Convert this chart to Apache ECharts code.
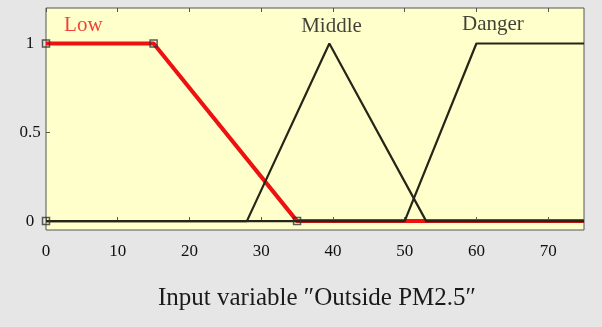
<!DOCTYPE html>
<html>
<head>
<meta charset="utf-8">
<script src="https://cdn.jsdelivr.net/npm/echarts@6/dist/echarts.min.js"></script>
<style>
  html, body { margin: 0; padding: 0; background: #e6e6e6; }
  #chart { width: 602px; height: 327px; }
</style>
</head>
<body>
<div id="chart"></div>
<script>
// membership functions
const lowX = [0, 15, 35, 75];
const lowY = [1, 1, 0, 0];
const middleX = [0, 28, 39.5, 53, 75];
const middleY = [0, 0, 1, 0, 0];
const dangerX = [0, 50, 60, 75];
const dangerY = [0, 0, 1, 1];
const markerX = [0, 15, 35, 0];
const markerY = [1, 1, 0, 0];

const mfNames = ["Low", "Middle", "Danger"];
const mfLabelX = [5.2, 39.8, 62.3];
const mfLabelY = [1.1, 1.098, 1.106];

const xTicks = [0, 10, 20, 30, 40, 50, 60, 70];
const yTicks = [0, 0.5, 1];

const FONT = "'Liberation Serif', 'Times New Roman', serif";
const LOW_COLOR = "#ee1111";
const LINE_COLOR = "#262618";

const zip = (xs, ys) => xs.map((x, i) => [x, ys[i]]);

const chart = echarts.init(document.getElementById("chart"), null, { renderer: "canvas" });

chart.setOption({
  backgroundColor: "#e6e6e6",
  animation: false,
  title: {
    text: "Input variable \u2033Outside PM2.5\u2033",
    left: 312,
    textAlign: "center",
    top: 281,
    textStyle: { fontFamily: FONT, fontSize: 25, fontWeight: "normal", color: "#1a1a1a" },
  },
  grid: {
    left: 46,
    right: 18,
    top: 8,
    bottom: 97,
    show: true,
    backgroundColor: "#ffffcc",
    borderColor: "#555",
    borderWidth: 1,
  },
  xAxis: [
    {
      type: "value",
      min: 0,
      max: 75,
      axisLine: { show: false },
      axisTick: { inside: true, length: 4, customValues: xTicks, lineStyle: { color: "#555" } },
      axisLabel: {
        customValues: xTicks,
        fontFamily: FONT,
        fontSize: 17,
        color: "#111",
        margin: 13,
      },
      splitLine: { show: false },
    },
    {
      type: "value",
      position: "top",
      min: 0,
      max: 75,
      axisLine: { show: false },
      axisTick: { inside: true, length: 4, customValues: xTicks, lineStyle: { color: "#555" } },
      axisLabel: { show: false },
      splitLine: { show: false },
    },
  ],
  yAxis: {
    type: "value",
    min: -0.05,
    max: 1.2,
    axisLine: { show: false },
    axisTick: { inside: true, length: 4, customValues: yTicks, lineStyle: { color: "#555" } },
    axisLabel: {
      customValues: yTicks,
      fontFamily: FONT,
      fontSize: 17,
      color: "#111",
      align: "center",
      margin: 16,
    },
    splitLine: { show: false },
  },
  series: [
    {
      type: "line",
      data: zip(lowX, lowY),
      showSymbol: false,
      lineStyle: { color: LOW_COLOR, width: 4 },
      z: 2,
    },
    {
      type: "line",
      data: zip(middleX, middleY),
      showSymbol: false,
      lineStyle: { color: LINE_COLOR, width: 2.2 },
      z: 3,
    },
    {
      type: "line",
      data: zip(dangerX, dangerY),
      showSymbol: false,
      lineStyle: { color: LINE_COLOR, width: 2.2 },
      z: 3,
    },
    {
      type: "scatter",
      data: zip(markerX, markerY),
      symbol: "rect",
      symbolSize: 7,
      itemStyle: { color: "rgba(0,0,0,0)", borderColor: "#333", borderWidth: 1.5 },
      z: 4,
    },
    {
      type: "scatter",
      data: mfNames.map((n, i) => ({
        value: [mfLabelX[i], mfLabelY[i]],
        name: n,
        label: { color: i === 0 ? LOW_COLOR : "#111" },
      })),
      symbolSize: 0,
      label: {
        show: true,
        position: "inside",
        formatter: (p) => p.name,
        fontFamily: FONT,
        fontSize: 21,
      },
      z: 5,
    },
  ],
});
</script>
</body>
</html>
